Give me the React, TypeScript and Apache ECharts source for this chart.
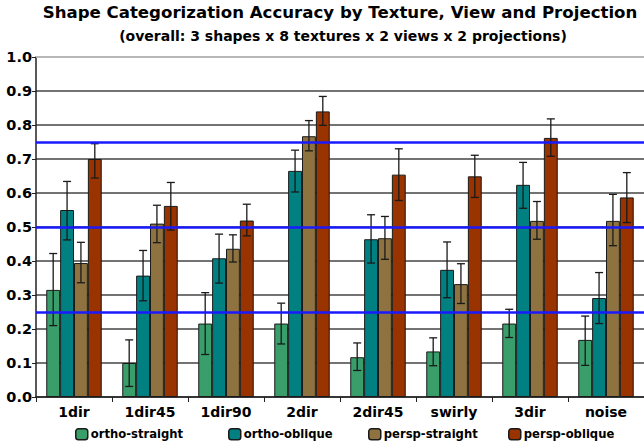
import React, { useEffect, useRef } from "react";
import * as echarts from "echarts";

const categories = ["1dir", "1dir45", "1dir90", "2dir", "2dir45", "swirly", "3dir", "noise"];
const seriesNames = ["ortho-straight", "ortho-oblique", "persp-straight", "persp-oblique"];

// mean accuracy per texture
const orthoStraight = [0.315, 0.1, 0.216, 0.216, 0.117, 0.134, 0.216, 0.168];
const orthoOblique = [0.55, 0.357, 0.408, 0.665, 0.464, 0.374, 0.624, 0.291];
const perspStraight = [0.394, 0.51, 0.436, 0.767, 0.467, 0.332, 0.518, 0.518];
const perspOblique = [0.70, 0.562, 0.519, 0.84, 0.654, 0.649, 0.762, 0.587];

// error bar ranges (low, high) per texture
const orthoStraightErr = [[0.21, 0.422], [0.031, 0.168], [0.125, 0.307], [0.156, 0.276], [0.078, 0.159], [0.092, 0.174], [0.175, 0.258], [0.093, 0.238]];
const orthoObliqueErr = [[0.462, 0.634], [0.283, 0.431], [0.335, 0.479], [0.603, 0.726], [0.394, 0.536], [0.292, 0.456], [0.555, 0.69], [0.216, 0.366]];
const perspStraightErr = [[0.336, 0.455], [0.454, 0.564], [0.397, 0.477], [0.724, 0.813], [0.405, 0.531], [0.275, 0.392], [0.464, 0.575], [0.445, 0.596]];
const perspObliqueErr = [[0.644, 0.745], [0.491, 0.631], [0.474, 0.567], [0.799, 0.884], [0.578, 0.73], [0.587, 0.711], [0.708, 0.818], [0.513, 0.66]];

const chanceLines = [0.25, 0.5, 0.75];
const yTicks = { min: 0, max: 1, interval: 0.1 };

const colors = ["#3a9e6b", "#008080", "#8e7340", "#993300"];
const legendLeft = [75, 228, 368, 508];
const FONT = "DejaVu Sans";
const CATEGORY_FILL = 0.73;

export default function App() {
  const ref = useRef<HTMLDivElement>(null);

  useEffect(() => {
    if (!ref.current) return;
    const chart = echarts.init(ref.current, null, { renderer: "svg" });
    const values = [orthoStraight, orthoOblique, perspStraight, perspOblique];
    const errs = [orthoStraightErr, orthoObliqueErr, perspStraightErr, perspObliqueErr];

    const errData: number[][] = [];
    errs.forEach((list, k) => list.forEach(([lo, hi], i) => errData.push([i, k, lo, hi])));

    const barSeries = seriesNames.map((name, k) => ({
      name,
      type: "bar",
      data: values[k],
      barGap: "0%",
      barCategoryGap: `${Math.round((1 - CATEGORY_FILL) * 100)}%`,
      itemStyle: { color: colors[k], borderColor: "#1a1a1a", borderWidth: 1 },
      z: 2,
    }));

    // one legend per entry so each sits at its own slot
    const legends = seriesNames.map((name, k) => ({
      data: [name],
      left: legendLeft[k],
      top: 428,
      padding: 0,
      itemWidth: 12,
      itemHeight: 11,
      textStyle: { fontFamily: FONT, fontWeight: "bold", fontSize: 11.6, color: "#000", padding: [0, 0, 0, -2] },
      itemStyle: { borderColor: "#1a1a1a", borderWidth: 1.5 },
    }));

    chart.setOption({
      animation: false,
      backgroundColor: "#ffffff",
      graphic: [
        {
          type: "text",
          x: 340,
          y: 12.5,
          style: {
            text: "Shape Categorization Accuracy by Texture, View and Projection",
            fontFamily: FONT,
            fontWeight: "bold",
            fontSize: 16.6,
            fill: "#000",
            textAlign: "center",
            textVerticalAlign: "middle",
          },
        },
        {
          type: "text",
          x: 343,
          y: 36,
          style: {
            text: "(overall: 3 shapes x 8 textures x 2 views x 2 projections)",
            fontFamily: FONT,
            fontWeight: "bold",
            fontSize: 14,
            fill: "#000",
            textAlign: "center",
            textVerticalAlign: "middle",
          },
        },
      ],
      legend: legends,
      grid: { left: 36, top: 57, width: 612, height: 340, containLabel: false },
      xAxis: {
        type: "category",
        data: categories,
        axisLine: { lineStyle: { color: "#222", width: 1.5 } },
        axisTick: { show: true, length: 5, lineStyle: { color: "#222" } },
        axisLabel: { fontFamily: FONT, fontWeight: "bold", fontSize: 14, color: "#000", margin: 8 },
      },
      yAxis: {
        type: "value",
        min: yTicks.min,
        max: yTicks.max,
        interval: yTicks.interval,
        axisLine: { show: true, lineStyle: { color: "#222", width: 1.5 } },
        axisTick: { show: true, length: 4, lineStyle: { color: "#222" } },
        axisLabel: {
          fontFamily: FONT,
          fontWeight: "bold",
          fontSize: 14.5,
          color: "#000",
          margin: 4,
          formatter: (v: number) => v.toFixed(1),
        },
        splitLine: { show: true, lineStyle: { color: "#444", width: 1.5 } },
      },
      series: [
        ...barSeries,
        {
          name: "errors",
          type: "custom",
          data: errData,
          encode: { x: 0, y: [2, 3] },
          z: 4,
          renderItem: (_params: any, api: any) => {
            const cat = api.value(0);
            const k = api.value(1);
            const band = api.size([1, 0])[0];
            const bw = (band * CATEGORY_FILL) / 4;
            const cx = api.coord([cat, 0])[0] + (k - 1.5) * bw;
            const yl = api.coord([cat, api.value(2)])[1];
            const yh = api.coord([cat, api.value(3)])[1];
            const cap = 4;
            const style = { stroke: "#1a1a1a", lineWidth: 1.3 };
            return {
              type: "group",
              children: [
                { type: "line", shape: { x1: cx, y1: yl, x2: cx, y2: yh }, style },
                { type: "line", shape: { x1: cx - cap, y1: yh, x2: cx + cap, y2: yh }, style },
                { type: "line", shape: { x1: cx - cap, y1: yl, x2: cx + cap, y2: yl }, style },
              ],
            };
          },
        },
        {
          name: "reference",
          type: "line",
          data: [],
          z: 5,
          markLine: {
            silent: true,
            symbol: "none",
            label: { show: false },
            data: [
              ...chanceLines.map((v) => ({
                yAxis: v,
                lineStyle: { color: "#1a1aff", width: 2.5, type: "solid" },
              })),
              { yAxis: yTicks.max, lineStyle: { color: "#b8b8b8", width: 2, type: "solid" } },
            ],
          },
        },
      ],
    });

    return () => chart.dispose();
  }, []);

  return (
    <div
      ref={ref}
      style={{ position: "absolute", left: 0, top: 0, width: 644, height: 448, background: "#fff" }}
    />
  );
}
